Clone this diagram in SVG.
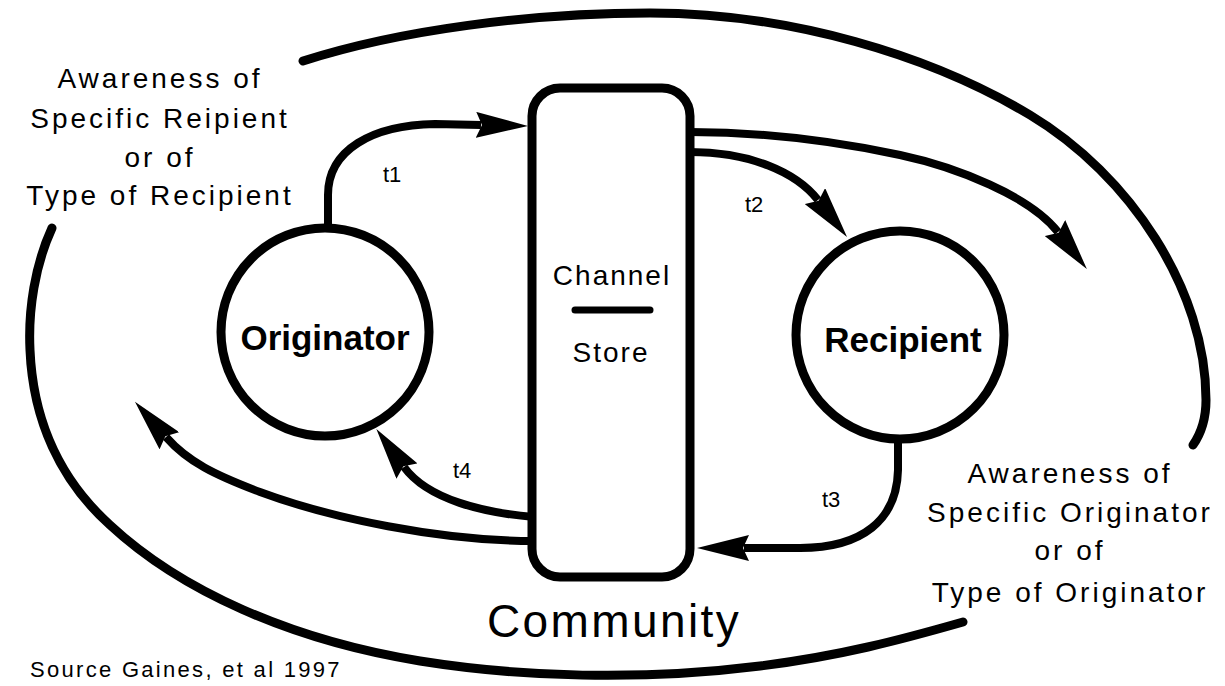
<svg xmlns="http://www.w3.org/2000/svg" width="1225" height="686" viewBox="0 0 1225 686">
  <style>
    .bg { fill: #ffffff; }
    .node { fill: none; stroke: #000; stroke-width: 9; }
    .outer { fill: none; stroke: #000; stroke-width: 9; stroke-linecap: round; stroke-linejoin: round; }
    .conn { fill: none; stroke: #000; stroke-width: 8; stroke-linejoin: round; }
    .lbl { font-family: "Liberation Sans", Arial, sans-serif; fill: #000; }
    .aw { font-size: 28px; letter-spacing: 3px; text-anchor: middle; }
    .bold { font-size: 35px; font-weight: bold; text-anchor: middle; }
    .cs { font-size: 28px; letter-spacing: 2px; text-anchor: middle; }
    .t { font-size: 22px; }
  </style>
  <defs>
    <marker id="arrow" markerUnits="userSpaceOnUse" viewBox="0 0 52 26" markerWidth="52" markerHeight="26" refX="5" refY="13" orient="auto">
      <path d="M0,0 L52,13 L0,26 L6,13 Z" fill="#000"/>
    </marker>
  </defs>
  <rect class="bg" x="0" y="0" width="1225" height="686"/>

  <g id="community">
    <path class="outer" d="M303,61 C400,30 530,13 650,13 C790,13 930,55 1030,115 C1130,175 1206,290 1206,400 C1206,420 1200,435 1193,445"/>
    <path class="outer" d="M52,228 C35,265 28,310 30,350 C33,420 60,480 110,525 C180,590 290,640 420,661 C520,677 640,681 760,666 C840,656 900,640 963,622"/>
    <text class="lbl" x="614" y="637" font-size="46" letter-spacing="2.4" text-anchor="middle">Community</text>
  </g>

  <g id="awareness-recipient">
    <text class="lbl aw" x="160" y="88">Awareness of</text>
    <text class="lbl aw" x="160" y="128">Specific Reipient</text>
    <text class="lbl aw" x="160" y="167">or of</text>
    <text class="lbl aw" x="160" y="205">Type of Recipient</text>
  </g>

  <g id="awareness-originator">
    <text class="lbl aw" x="1070" y="483">Awareness of</text>
    <text class="lbl aw" x="1070" y="522">Specific Originator</text>
    <text class="lbl aw" x="1070" y="560">or of</text>
    <text class="lbl aw" x="1070" y="602">Type of Originator</text>
  </g>

  <g id="originator">
    <circle class="node" cx="325" cy="332" r="104"/>
    <text class="lbl bold" x="325" y="350">Originator</text>
  </g>

  <g id="recipient">
    <circle class="node" cx="900" cy="335" r="104"/>
    <text class="lbl bold" x="903" y="352">Recipient</text>
  </g>

  <g id="channel-store">
    <rect class="node" x="532" y="88" width="158" height="489" rx="28" ry="28"/>
    <text class="lbl cs" x="612" y="285">Channel</text>
    <line x1="575" y1="310" x2="650" y2="310" stroke="#000" stroke-width="7" stroke-linecap="round"/>
    <text class="lbl cs" x="611" y="362">Store</text>
  </g>

  <g id="connectors">
    <path class="conn" d="M328,230 L328,195 C328,150 372,125 435,124 L481,125" marker-end="url(#arrow)"/>
    <path class="conn" d="M690,152 C750,152 796,172 818,200" marker-end="url(#arrow)"/>
    <path class="conn" d="M690,132 C760,132 830,140 900,155 C956,167 1030,196 1058,232" marker-end="url(#arrow)"/>
    <path class="conn" d="M898,438 L898,470 C897,520 862,548 800,548 L744,548" marker-end="url(#arrow)"/>
    <path class="conn" d="M534,517 C485,513 428,500 404,467" marker-end="url(#arrow)"/>
    <path class="conn" d="M534,541 C440,541 330,518 260,492 C215,475 188,462 166,437" marker-end="url(#arrow)"/>
    <text class="lbl t" x="383" y="182">t1</text>
    <text class="lbl t" x="745" y="212">t2</text>
    <text class="lbl t" x="822" y="507">t3</text>
    <text class="lbl t" x="453" y="478">t4</text>
  </g>

  <text class="lbl" x="30" y="677" font-family="Liberation Serif, serif" font-size="22" letter-spacing="2.3">Source Gaines, et al 1997</text>
</svg>
